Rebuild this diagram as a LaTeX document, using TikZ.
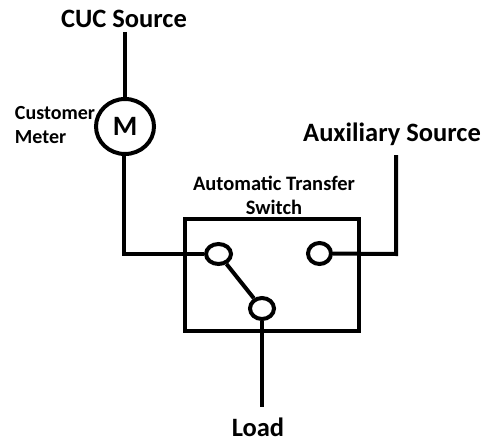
\documentclass[tikz,border=0pt]{standalone}
\usepackage{fontspec}
\usetikzlibrary{shapes.geometric}
\setmainfont{Carlito}
\begin{document}
\begin{tikzpicture}[x=1pt,y=-1pt,
  wire/.style={line width=4pt,line join=miter},
  contact/.style={ellipse,draw,line width=4pt,fill=white,inner sep=0pt},
  biglab/.style={inner sep=0pt,font=\bfseries\fontsize{26.5}{30}\selectfont},
  lab/.style={inner sep=0pt,align=left}]
\useasboundingbox (0,0) rectangle (484,441);
\fill[white] (0,0) rectangle (484,441);
\node[biglab] (cuc) at (124,19) {CUC Source};
\node[biglab] (aux) at (392,134) {Auxiliary Source};
\node[biglab] (load) at (258,427.5) {Load};
\node[lab,font=\bfseries\fontsize{20}{24}\selectfont] (cm) at (55,125) {Customer\\Meter};
\node[lab,font=\bfseries\fontsize{20.5}{24}\selectfont,align=center] (ats) at (274,195.5) {Automatic Transfer\\Switch};
\node[ellipse,draw,line width=4pt,minimum width=58pt,minimum height=55pt,inner sep=0pt,font=\bfseries\fontsize{28}{30}\selectfont] (m) at (125,126.5) {M};
\node[draw,line width=4pt,minimum width=174pt,minimum height=112pt,inner sep=0pt] (box) at (271.5,274.5) {};
\node[contact,minimum width=25pt,minimum height=20pt] (c1) at (218.5,254) {};
\node[contact,minimum width=23pt,minimum height=21pt] (c2) at (319.5,253.5) {};
\node[contact,minimum width=24pt,minimum height=21pt] (c3) at (262,308.5) {};
\coordinate (cucend) at (125,32);
\coordinate (mtop) at (125,100);
\coordinate (mbot) at (124,153);
\coordinate (j1) at (124,254);
\coordinate (a1) at (396,254);
\coordinate (a2) at (396,155);
\coordinate (loadend) at (262,407);
\draw[wire] (cucend) -- (mtop);
\draw[wire] (mbot) -- (j1) -- (c1);
\draw[wire] (c2) -- (a1) -- (a2);
\draw[wire] (c1) -- (c3);
\draw[wire] (c3) -- (loadend);
\end{tikzpicture}
\end{document}
